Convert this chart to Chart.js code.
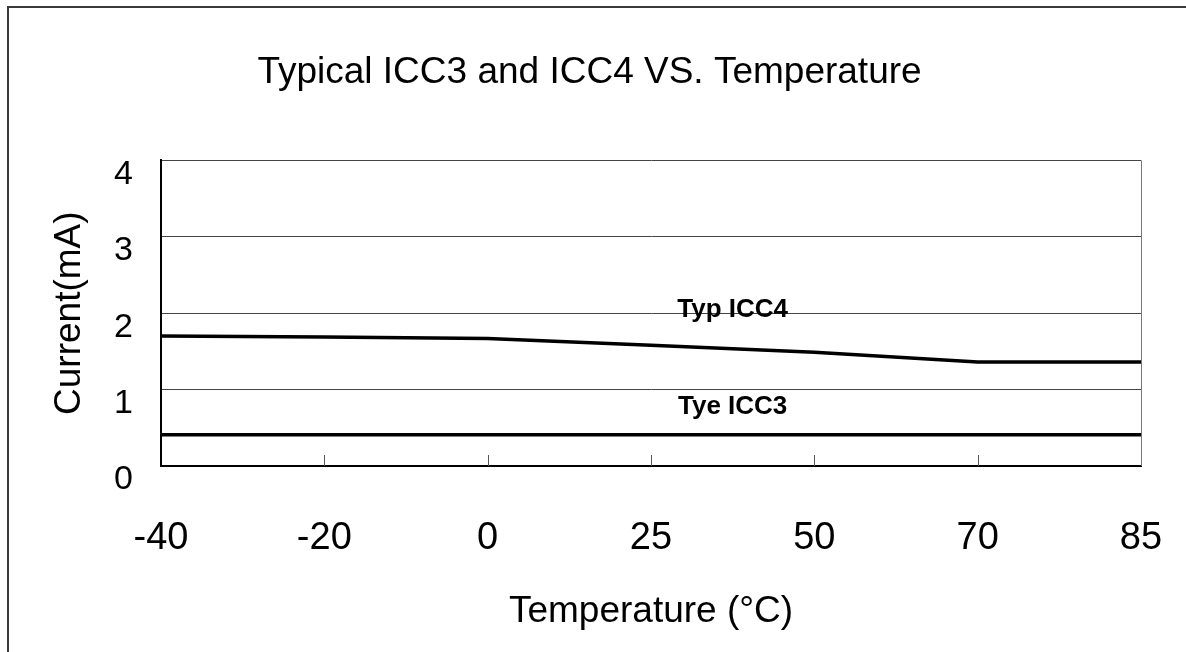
<!DOCTYPE html>
<html>
<head>
<meta charset="utf-8">
<script src="https://cdn.jsdelivr.net/npm/chart.js@4"></script>
<style>
  html, body { margin: 0; padding: 0; background: #fff; }
  #wrap { width: 1186px; height: 652px; }
</style>
</head>
<body>
<div id="wrap"><canvas id="myChart" width="1186" height="652"></canvas></div>
<script>
// data
var temps = ['-40', '-20', '0', '25', '50', '70', '85'];
var icc4 = [1.70, 1.69, 1.67, 1.58, 1.49, 1.36, 1.36];
var icc3 = [0.41, 0.41, 0.41, 0.41, 0.41, 0.41, 0.41];
var yTicks = [0, 1, 2, 3, 4];
var seriesNames = ['Typ ICC4', 'Tye ICC3'];
var labelAt = [3.5, 3.5];      // category position of the in-chart labels
var labelVal = [2.05, 0.78];   // value position of the in-chart labels

var FONT = '"Liberation Sans", Arial, sans-serif';

// frame, x tick marks, right edge and series labels
var extras = {
    id: 'extras',
    beforeDraw: function(chart) {
        var c = chart.ctx;
        c.save();
        c.fillStyle = '#fff';
        c.fillRect(0, 0, chart.width, chart.height);
        c.strokeStyle = '#3a3a3a';
        c.lineWidth = 2;
        c.beginPath();
        c.moveTo(8, chart.height);
        c.lineTo(8, 7);
        c.lineTo(chart.width, 7);
        c.stroke();
        c.restore();
    },
    afterDatasetsDraw: function(chart) {
        var c = chart.ctx;
        var x = chart.scales.x, y = chart.scales.y;
        var a = chart.chartArea;
        c.save();
        c.strokeStyle = '#555';
        c.lineWidth = 1;
        for (var i = 1; i < temps.length; i++) {
            var px = Math.round(x.getPixelForValue(i)) + 0.5;
            c.beginPath();
            c.moveTo(px, a.bottom);
            c.lineTo(px, a.bottom - 11);
            c.stroke();
        }
        c.strokeStyle = '#777';
        c.beginPath();
        c.moveTo(Math.round(a.right) + 0.5, a.top);
        c.lineTo(Math.round(a.right) + 0.5, a.bottom);
        c.stroke();
        c.fillStyle = '#000';
        c.font = 'bold 26px ' + FONT;
        c.textAlign = 'center';
        c.textBaseline = 'middle';
        for (var k = 0; k < seriesNames.length; k++) {
            var lo = Math.floor(labelAt[k]);
            var lx = x.getPixelForValue(lo) + (x.getPixelForValue(lo + 1) - x.getPixelForValue(lo)) * (labelAt[k] - lo);
            c.fillText(seriesNames[k], lx, y.getPixelForValue(labelVal[k]));
        }
        c.restore();
    }
};

var ctx = document.getElementById('myChart').getContext('2d');
var myChart = new Chart(ctx, {
    type: 'line',
    data: {
        labels: temps,
        datasets: [{
            label: seriesNames[0],
            data: icc4,
            borderColor: '#000',
            borderWidth: 3.5,
            pointRadius: 0,
            tension: 0,
            fill: false
        }, {
            label: seriesNames[1],
            data: icc3,
            borderColor: '#000',
            borderWidth: 3.5,
            pointRadius: 0,
            tension: 0,
            fill: false
        }]
    },
    options: {
        responsive: false,
        animation: false,
        layout: { padding: { left: 38, right: 45, top: 10, bottom: 0 } },
        plugins: {
            legend: { display: false },
            tooltip: { enabled: false },
            title: {
                display: true,
                text: 'Typical ICC3 and ICC4 VS. Temperature',
                color: '#000',
                font: { family: FONT, size: 37, weight: 'normal' },
                padding: { top: 41, bottom: 65 }
            }
        },
        scales: {
            x: {
                offset: false,
                grid: {
                    display: true,
                    drawOnChartArea: false,
                    drawTicks: true,
                    tickLength: 48,
                    tickColor: 'rgba(0,0,0,0)'
                },
                border: { display: true, color: '#000', width: 2 },
                ticks: {
                    color: '#000',
                    font: { family: FONT, size: 38 },
                    padding: 2,
                    maxRotation: 0
                },
                title: {
                    display: true,
                    text: 'Temperature (°C)',
                    color: '#000',
                    font: { family: FONT, size: 37 },
                    padding: { top: 10, bottom: 18 }
                },
                afterFit: function(s) { s.height = 652 - 466; }
            },
            y: {
                min: 0,
                max: 4,
                afterBuildTicks: function(s) {
                    s.ticks = yTicks.map(function(v) { return { value: v }; });
                },
                grid: { color: '#444', lineWidth: 1, drawTicks: false },
                border: { display: true, color: '#000', width: 2 },
                ticks: {
                    color: '#000',
                    font: { family: FONT, size: 34 },
                    padding: 28,
                    labelOffset: 14
                },
                title: {
                    display: true,
                    text: 'Current(mA)',
                    color: '#000',
                    font: { family: FONT, size: 37 },
                    padding: { top: 10, bottom: 0 }
                },
                afterFit: function(s) { s.width = 161 - 38; }
            }
        }
    },
    plugins: [extras]
});
</script>
</body>
</html>
